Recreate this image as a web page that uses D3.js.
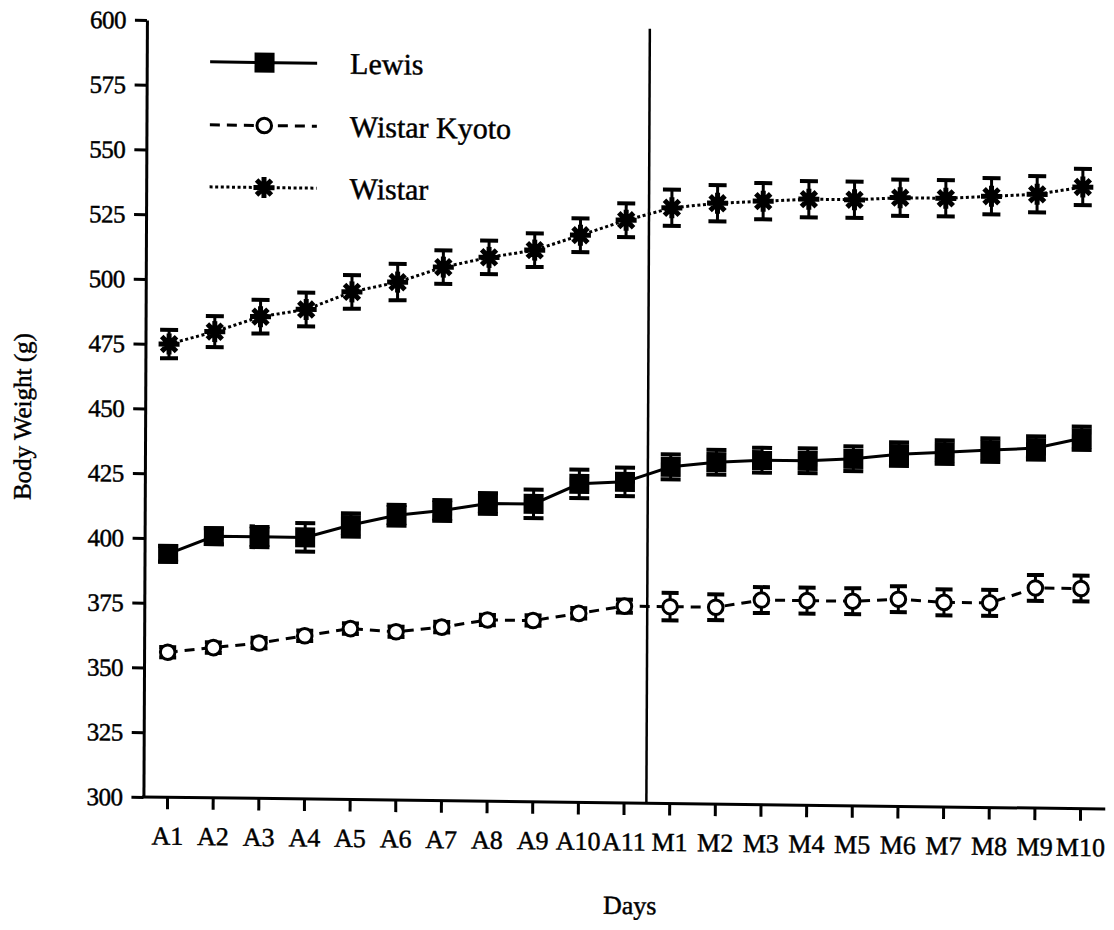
<!DOCTYPE html>
<html><head><meta charset="utf-8">
<script src="https://cdn.jsdelivr.net/npm/d3@7"></script>
<style>
body{margin:0;background:#fff}
text{font-family:"Liberation Serif","Times New Roman",Times,serif;fill:#000;stroke:#000;stroke-width:0.45px}
</style>
</head><body>
<svg id="chart" width="1114" height="930"></svg>
<script>
// ---- data ----
const days = ["A1","A2","A3","A4","A5","A6","A7","A8","A9","A10","A11",
              "M1","M2","M3","M4","M5","M6","M7","M8","M9","M10"];
const lewis     = [394,401,401,401,406,410,412,415,415,423,424, 430,432,433,433,434,436,437,438,439,443];
const lewisErr  = [3,3,4,5.5,4.5,4,4,4,5.5,5.5,5.5, 4.8,4.8,4.8,4.8,4.8,4.5,4.5,4.5,4.5,4.5];
const kyoto     = [356,358,360,363,366,365,367,370,370,373,376, 376,376,379,379,379,380,379,379,385,385];
const kyotoErr  = [2,2,2,2,2,2,2,2,2,2,2.5, 5.3,5,5,5,5,5,5,5,5,5];
const wistar    = [475,480,486,489,496,500,506,510,513,519,525, 530,532,533,534,534,535,535,536,537,540];
const wistarErr = [5.5,6,6.5,6.5,6.5,7,6.5,6.5,6.5,6.5,6.5, 7,7,7,7,7,7,7,7,7,7];
const yTicks = [300,325,350,375,400,425,450,475,500,525,550,575,600];
const seriesNames = ["Lewis","Wistar Kyoto","Wistar"];
const yTitle = "Body Weight (g)";
const xTitle = "Days";

// ---- setup ----
const svg = d3.select("#chart");
// slight skew like the scanned original
const g = svg.append("g").attr("transform","matrix(1,0.0125,-0.0045,1,1.85,-7.75)");

const x = d3.scalePoint().domain(days).range([168.8,1081.8]);
const y = d3.scaleLinear().domain([300,600]).range([802.9,25.9]);
const axisY0 = 802.9, axisX0 = 145.2;

const series = [
  {name:seriesNames[0], vals:lewis,  err:lewisErr,  dash:null,   marker:"square", cap:10},
  {name:seriesNames[1], vals:kyoto,  err:kyotoErr,  dash:"10,7", marker:"circle", cap:8.5},
  {name:seriesNames[2], vals:wistar, err:wistarErr, dash:"3,2.6",marker:"star",   cap:9}
];

// ---- axes ----
const yAxis = g.append("g").attr("transform",`translate(${axisX0},0)`)
  .call(d3.axisLeft(y).tickValues(yTicks).tickSize(12).tickPadding(9).tickSizeOuter(0));
yAxis.select(".domain").attr("stroke","#000").attr("stroke-width",3);
yAxis.selectAll(".tick line").attr("stroke","#000").attr("stroke-width",3);
yAxis.selectAll(".tick text").attr("font-size",25).attr("dy","0.33em").attr("letter-spacing","-0.5");
yAxis.attr("font-family",null).attr("font-size",null);

const xAxis = g.append("g").attr("transform",`translate(0,${axisY0})`)
  .call(d3.axisBottom(x).tickSize(12).tickPadding(17).tickSizeOuter(0));
xAxis.select(".domain").remove();
xAxis.selectAll(".tick line").attr("stroke","#000").attr("stroke-width",3);
xAxis.selectAll(".tick text").attr("font-size",26);
xAxis.attr("font-family",null).attr("font-size",null);
g.append("line").attr("x1",axisX0-1.5).attr("x2",1107).attr("y1",axisY0).attr("y2",axisY0)
  .attr("stroke","#000").attr("stroke-width",3);

// vertical separator between A11 and M1
const sepX = (x("A11")+x("M1"))/2;
g.append("line").attr("x1",sepX).attr("x2",sepX).attr("y1",y(599)).attr("y2",axisY0)
  .attr("stroke","#000").attr("stroke-width",2.5);

// axis titles
g.append("text").attr("transform",`translate(31,424) rotate(-90)`)
  .attr("text-anchor","middle").attr("font-size",25).text(yTitle);
g.append("text").attr("x",632).attr("y",914).attr("text-anchor","middle")
  .attr("font-size",26).text(xTitle);

// ---- markers ----
function drawMarker(sel, type){
  if(type==="square"){
    sel.append("rect").attr("x",-10).attr("y",-10).attr("width",20).attr("height",20).attr("fill","#000");
  } else if(type==="circle"){
    sel.append("circle").attr("r",7.3).attr("fill","#fff").attr("stroke","#000").attr("stroke-width",3);
  } else {
    const r = 10.5, d = r*Math.SQRT1_2;
    sel.append("path")
      .attr("d",`M${-r},0H${r}M0,${-r}V${r}M${-d},${-d}L${d},${d}M${-d},${d}L${d},${-d}`)
      .attr("stroke","#000").attr("stroke-width",5).attr("fill","none");
    sel.append("circle").attr("r",5.5).attr("fill","#000");
  }
}

const line = d3.line().x((d,i)=>x(days[i])).y(d=>y(d));

series.forEach(s=>{
  g.append("path").datum(s.vals).attr("d",line).attr("fill","none")
    .attr("stroke","#000").attr("stroke-width",3)
    .attr("stroke-dasharray",s.dash);
  const eb = g.append("g").selectAll("g").data(s.vals).join("g")
    .attr("transform",(d,i)=>`translate(${x(days[i])},0)`);
  eb.append("line").attr("y1",(d,i)=>y(d+s.err[i])).attr("y2",(d,i)=>y(d-s.err[i]))
    .attr("stroke","#000").attr("stroke-width",3);
  eb.append("line").attr("x1",-s.cap).attr("x2",s.cap).attr("y1",(d,i)=>y(d+s.err[i])).attr("y2",(d,i)=>y(d+s.err[i]))
    .attr("stroke","#000").attr("stroke-width",4);
  eb.append("line").attr("x1",-s.cap).attr("x2",s.cap).attr("y1",(d,i)=>y(d-s.err[i])).attr("y2",(d,i)=>y(d-s.err[i]))
    .attr("stroke","#000").attr("stroke-width",4);
  const mk = g.append("g").selectAll("g").data(s.vals).join("g")
    .attr("transform",(d,i)=>`translate(${x(days[i])},${y(d)})`);
  mk.each(function(){ drawMarker(d3.select(this), s.marker); });
});

// ---- legend ----
const legY = [67,130,192];
series.forEach((s,i)=>{
  const lg = g.append("g").attr("transform",`translate(0,${legY[i]})`);
  lg.append("line").attr("x1",208.6).attr("x2",315.6).attr("y1",0).attr("y2",0)
    .attr("stroke","#000").attr("stroke-width",3).attr("stroke-dasharray",s.dash);
  drawMarker(lg.append("g").attr("transform","translate(263,0)"), s.marker);
  lg.append("text").attr("x",348.6).attr("y",0).attr("dy","0.34em").attr("font-size",30).text(s.name);
});
</script>
</body></html>
